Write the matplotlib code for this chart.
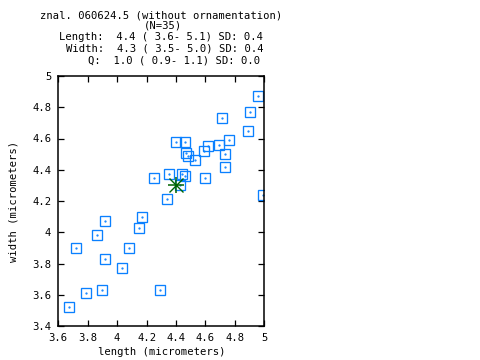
import numpy as np
import matplotlib
matplotlib.use("Agg")
import matplotlib.pyplot as plt

length = [3.67, 3.72, 3.79, 3.86, 3.90, 3.92, 3.92, 4.03, 4.08, 4.15,
          4.17, 4.29, 4.96, 4.90, 4.71, 4.89, 4.76, 4.69, 4.62, 4.59,
          4.73, 4.53, 4.40, 4.46, 4.47, 4.48, 4.73, 4.60, 4.25, 4.35,
          4.44, 4.46, 4.43, 4.34, 4.99]
width = [3.52, 3.90, 3.61, 3.98, 3.63, 4.07, 3.83, 3.77, 3.90, 4.03,
         4.10, 3.63, 4.87, 4.77, 4.73, 4.65, 4.59, 4.56, 4.55, 4.52,
         4.50, 4.46, 4.58, 4.58, 4.51, 4.49, 4.42, 4.35, 4.35, 4.37,
         4.37, 4.36, 4.30, 4.21, 4.24]
mean_length = 4.4
mean_width = 4.3

title_lines = ["znal. 060624.5 (without ornamentation)", "(N=35)"]
stat_lines = ["Length:  4.4 ( 3.6- 5.1) SD: 0.4",
              "Width:  4.3 ( 3.5- 5.0) SD: 0.4",
              "Q:  1.0 ( 0.9- 1.1) SD: 0.0"]
xticks = [3.6, 3.8, 4.0, 4.2, 4.4, 4.6, 4.8, 5.0]
yticks = [3.4, 3.6, 3.8, 4.0, 4.2, 4.4, 4.6, 4.8, 5.0]

plt.rcParams['font.family'] = 'DejaVu Sans Mono'
plt.rcParams['font.size'] = 7.6

W, H = 480, 360
fig = plt.figure(figsize=(W / 100, H / 100), dpi=100)
ax = fig.add_axes([58.3 / W, 1 - 326 / H, 206 / W, 250 / H])

blue = '#0a80ff'
ax.plot(length, width, ls='none', marker='s', ms=7.6, mfc='none',
        mec=blue, mew=0.95)
ax.plot(length, width, ls='none', marker='.', ms=1.2, color=blue)

# mean marked with an asterisk (+ and x)
ax.plot([mean_length], [mean_width], ls='none', marker='+', ms=11,
        mew=1.1, color='#006400')
ax.plot([mean_length], [mean_width], ls='none', marker='x', ms=10,
        mew=1.0, color='#006400')

ax.set_xlim(3.6, 5.0)
ax.set_ylim(3.4, 5.0)
ax.set_xticks(xticks)
ax.set_yticks(yticks)
ax.set_xticklabels([f'{v:g}' for v in xticks])
ax.set_yticklabels([f'{v:g}' for v in yticks])
ax.tick_params(direction='in', length=4, width=0.9, top=True, right=True,
               pad=5)
for s in ax.spines.values():
    s.set_linewidth(1.1)

ax.set_xlabel('length (micrometers)', labelpad=3)
ax.set_ylabel('width (micrometers)', labelpad=10)

fig.text(161 / W, 1 - 15 / H, title_lines[0], ha='center', va='center')
fig.text(163 / W, 1 - 26 / H, title_lines[1], ha='center', va='center')
stat_x = [161, 165, 174.5]
for i, s in enumerate(stat_lines):
    fig.text(stat_x[i] / W, 1 - (37.5 + 11.3 * i) / H, s,
             ha='center', va='center')

fig.savefig('out.png', dpi=100)
